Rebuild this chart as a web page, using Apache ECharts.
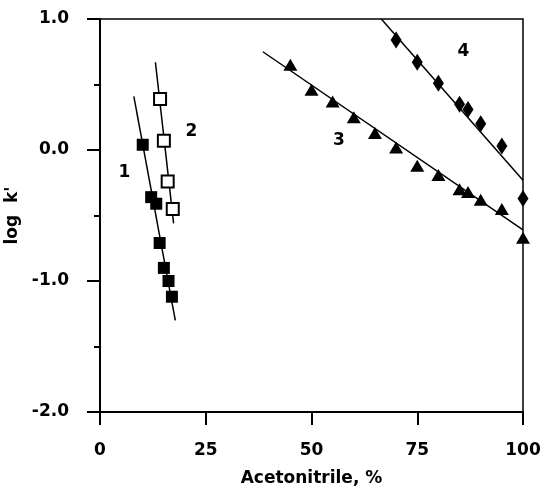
<!DOCTYPE html>
<html><head><meta charset="utf-8">
<script src="https://cdn.jsdelivr.net/npm/echarts@6/dist/echarts.min.js"></script>
<style>html,body{margin:0;padding:0;background:#fff}#c{width:540px;height:493px}</style>
</head><body><div id="c"></div>
<script>
// Series 1: filled squares
const s1Acn = [10.1, 12.1, 13.3, 14.1, 15.1, 16.2, 17.0];
const s1LogK = [0.04, -0.36, -0.41, -0.71, -0.90, -1.00, -1.12];
const s1FitX = [8.0, 17.8];
const s1FitY = [0.41, -1.30];
// Series 2: open squares
const s2Acn = [14.2, 15.1, 16.0, 17.2];
const s2LogK = [0.39, 0.07, -0.24, -0.45];
const s2FitX = [13.1, 17.4];
const s2FitY = [0.67, -0.56];
// Series 3: triangles
const s3Acn = [45, 50, 55, 60, 65, 70, 75, 80, 85, 87, 90, 95, 100];
const s3LogK = [0.65, 0.46, 0.37, 0.25, 0.13, 0.02, -0.12, -0.19, -0.30, -0.32, -0.38, -0.45, -0.67];
const s3FitX = [38.5, 100];
const s3FitY = [0.75, -0.61];
// Series 4: diamonds
const s4Acn = [70, 75, 80, 85, 87, 90, 95, 100];
const s4LogK = [0.84, 0.67, 0.51, 0.35, 0.31, 0.20, 0.03, -0.37];
const s4FitX = [66.5, 100];
const s4FitY = [1.0, -0.23];
// Curve labels
const curveLabels = ['1', '2', '3', '4'];
const curveLabelX = [5.8, 21.6, 56.5, 85.9];
const curveLabelY = [-0.17, 0.14, 0.07, 0.75];
// Axis ticks
const xTickValues = [0, 25, 50, 75, 100];
const xTickLabels = ['0', '25', '50', '75', '100'];
const yTickValues = [-2, -1, 0, 1];
const yTickLabels = ['-2.0', '-1.0', '0.0', '1.0'];

const pairs = (xs, ys) => xs.map((x, i) => [x, ys[i]]);
const FONT = '"DejaVu Sans", sans-serif';
const INK = '#000';

function fitLine(xs, ys) {
  return { type: 'line', data: pairs(xs, ys), symbol: 'none', silent: true,
    lineStyle: { color: INK, width: 1.5 }, z: 2, clip: true };
}

const chart = echarts.init(document.getElementById('c'), null, { renderer: 'canvas' });
chart.setOption({
  animation: false,
  backgroundColor: '#fff',
  grid: { left: 100, right: 17, top: 19, bottom: 81, containLabel: false, outerBoundsMode: 'none',
    show: true, borderColor: INK, borderWidth: 1.5 },
  xAxis: {
    type: 'value', min: 0, max: 100, interval: 25,
    name: 'Acetonitrile, %', nameLocation: 'middle', nameGap: 58,
    nameTextStyle: { fontFamily: FONT, fontWeight: 'bold', fontSize: 17, color: INK },
    axisLine: { show: true, onZero: false, lineStyle: { color: INK, width: 2 } },
    axisTick: { show: true, inside: false, length: 13, lineStyle: { color: INK, width: 2 } },
    axisLabel: { margin: 30, fontFamily: FONT, fontWeight: 'bold', fontSize: 17, color: INK,
      formatter: v => { const i = xTickValues.indexOf(v); return i >= 0 ? xTickLabels[i] : ''; } },
    splitLine: { show: false }
  },
  yAxis: {
    type: 'value', min: -2, max: 1, interval: 1,
    name: "log  k'", nameLocation: 'middle', nameGap: 74, nameRotate: 90,
    nameTextStyle: { fontFamily: FONT, fontWeight: 'bold', fontSize: 17, color: INK },
    axisLine: { show: true, onZero: false, lineStyle: { color: INK, width: 2 } },
    axisTick: { show: true, inside: false, length: 13, lineStyle: { color: INK, width: 2 } },
    minorTick: { show: true, splitNumber: 2, length: 6, lineStyle: { color: INK, width: 2 } },
    axisLabel: { margin: 31, fontFamily: FONT, fontWeight: 'bold', fontSize: 17, color: INK,
      formatter: v => { const i = yTickValues.indexOf(v); return i >= 0 ? yTickLabels[i] : ''; } },
    splitLine: { show: false }, minorSplitLine: { show: false }
  },
  series: [
    fitLine(s1FitX, s1FitY),
    fitLine(s2FitX, s2FitY),
    fitLine(s3FitX, s3FitY),
    fitLine(s4FitX, s4FitY),
    { type: 'scatter', data: pairs(s1Acn, s1LogK), symbol: 'rect', symbolSize: 12,
      itemStyle: { color: INK, opacity: 1 }, z: 3 },
    { type: 'scatter', data: pairs(s2Acn, s2LogK), symbol: 'rect', symbolSize: 12,
      itemStyle: { color: '#fff', borderColor: INK, borderWidth: 2, opacity: 1 }, z: 3 },
    { type: 'scatter', data: pairs(s3Acn, s3LogK), symbol: 'triangle', symbolSize: [14, 12],
      itemStyle: { color: INK, opacity: 1 }, z: 3 },
    { type: 'scatter', data: pairs(s4Acn, s4LogK), symbol: 'diamond', symbolSize: [11, 17],
      itemStyle: { color: INK, opacity: 1 }, z: 3 },
    { type: 'scatter', symbolSize: 0, silent: true, z: 4,
      itemStyle: { opacity: 1, color: INK },
      data: curveLabels.map((t, i) => ({ value: [curveLabelX[i], curveLabelY[i]], name: t })),
      label: { show: true, position: 'inside', formatter: p => p.name, opacity: 1,
        fontFamily: FONT, fontWeight: 'bold', fontSize: 17, color: INK } }
  ]
});
</script>
</body></html>
